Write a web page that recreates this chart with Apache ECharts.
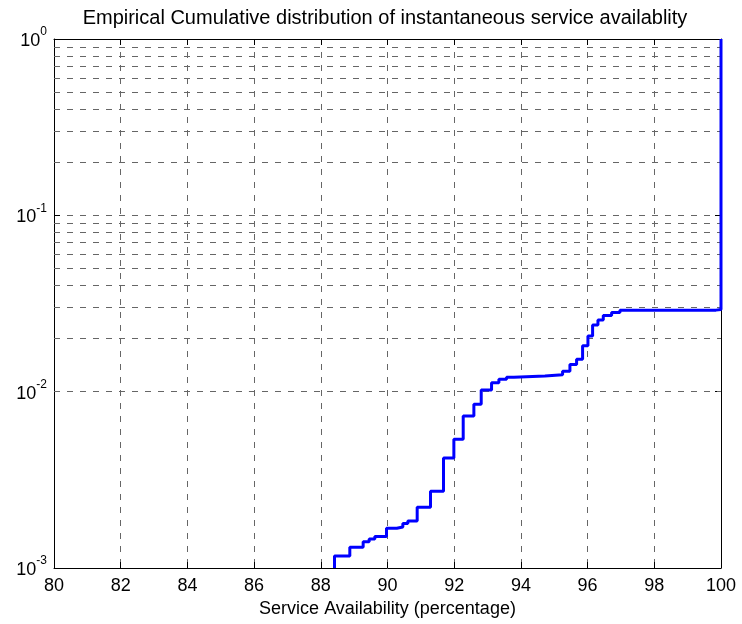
<!DOCTYPE html>
<html>
<head>
<meta charset="utf-8">
<script src="https://cdn.jsdelivr.net/npm/echarts@6/dist/echarts.min.js"></script>
<style>html,body{margin:0;padding:0;background:#fff;}#chart{width:742px;height:624px;}</style>
</head>
<body>
<div id="chart"></div>
<script>
var titleText = 'Empirical Cumulative distribution of instantaneous service availablity';
var xLabel = 'Service Availability (percentage)';
// ECDF step points (x = availability %, y = cumulative probability)
var availability = [88.41, 88.41, 88.87, 89.27, 89.45, 89.62, 89.97, 90.28, 90.46, 90.61, 90.89, 91.29, 91.68, 91.99, 92.27, 92.59, 92.81, 93.12, 93.34, 93.57, 93.79, 94.72, 95.25, 95.47, 95.67, 95.85, 96.01, 96.15, 96.31, 96.47, 96.72, 96.97, 99.85, 100.0, 100.0];
var cumProb = [0.001, 0.00117, 0.00131, 0.00141, 0.00146, 0.00151, 0.00168, 0.00171, 0.00179, 0.00185, 0.00221, 0.00272, 0.00420, 0.00537, 0.00728, 0.00849, 0.01023, 0.01125, 0.01175, 0.01207, 0.01228, 0.01247, 0.01305, 0.01424, 0.01527, 0.01824, 0.0207, 0.0239, 0.0255, 0.0270, 0.0281, 0.0290, 0.0292, 0.0303, 1.0];
var minorGridY = [0.002,0.003,0.004,0.005,0.006,0.007,0.008,0.009,0.02,0.03,0.04,0.05,0.06,0.07,0.08,0.09,0.2,0.3,0.4,0.5,0.6,0.7,0.8,0.9];

var FONT = 'Liberation Sans, Arial, sans-serif';
var gridLine = {show: true, lineStyle: {color: '#666', width: 1, type: [6, 7]}};
var seriesData = availability.map(function (x, i) { return [x, cumProb[i]]; });

var chart = echarts.init(document.getElementById('chart'), null, {renderer: 'canvas'});
chart.setOption({
  animation: false,
  backgroundColor: '#fff',
  title: {
    text: titleText, left: 380, top: 3, textAlign: 'center',
    textStyle: {fontFamily: FONT, fontSize: 20, fontWeight: 'normal', color: '#000'}
  },
  grid: {left: 54, right: 21, top: 39, bottom: 56, containLabel: false},
  xAxis: [{
    type: 'value', min: 80, max: 100, interval: 2,
    axisLine: {show: true, onZero: false, lineStyle: {color: '#000', width: 1}},
    axisTick: {show: true, inside: true, length: 6, lineStyle: {color: '#000'}},
    axisLabel: {color: '#000', fontFamily: FONT, fontSize: 18, margin: 9,
      showMinLabel: true, showMaxLabel: true},
    splitLine: gridLine,
    name: xLabel, nameLocation: 'middle', nameGap: 29,
    nameTextStyle: {color: '#000', fontFamily: FONT, fontSize: 18}
  }, {
    type: 'value', min: 80, max: 100, interval: 2, position: 'top',
    axisLine: {show: true, onZero: false, lineStyle: {color: '#000', width: 1}},
    axisTick: {show: true, inside: true, length: 6, lineStyle: {color: '#000'}},
    axisLabel: {show: false}, splitLine: {show: false}
  }],
  yAxis: [{
    type: 'log', logBase: 10, min: 0.001, max: 1,
    axisLine: {show: true, onZero: false, lineStyle: {color: '#000', width: 1}},
    axisTick: {show: true, inside: true, length: 6, lineStyle: {color: '#000'}},
    axisLabel: {
      margin: 7, color: '#000', padding: [4, 0, 0, 0],
      formatter: function (v) {
        var e = Math.round(Math.log(v) / Math.LN10);
        return '{b|10}{s|' + e + '}';
      },
      rich: {
        b: {fontFamily: FONT, fontSize: 18, color: '#000', verticalAlign: 'bottom', lineHeight: 18},
        s: {fontFamily: FONT, fontSize: 12, color: '#000', verticalAlign: 'bottom', lineHeight: 12, padding: [0, 0, 12, 0]}
      }
    },
    splitLine: gridLine
  }, {
    type: 'log', logBase: 10, min: 0.001, max: 1, position: 'right',
    axisLine: {show: true, onZero: false, lineStyle: {color: '#000', width: 1}},
    axisTick: {show: true, inside: true, length: 6, lineStyle: {color: '#000'}},
    axisLabel: {show: false}, splitLine: {show: false}
  }],
  series: [{
    type: 'line', step: 'end', xAxisIndex: 0, yAxisIndex: 0,
    data: seriesData, showSymbol: false, clip: true,
    lineStyle: {color: '#0000ff', width: 3},
    z: 5,
    markLine: {
      silent: true, symbol: ['none', 'none'], label: {show: false},
      lineStyle: {color: '#666', width: 1, type: [6, 7]},
      data: minorGridY.map(function (v) { return {yAxis: v}; }),
      z: 1
    }
  }]
});
</script>
</body>
</html>
